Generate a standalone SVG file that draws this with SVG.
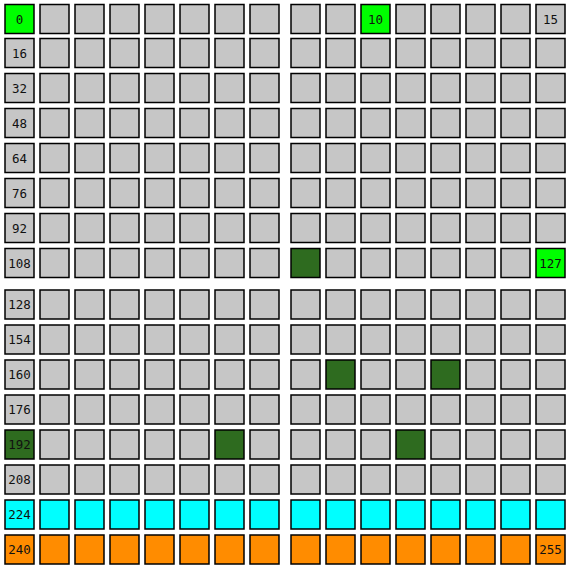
<svg xmlns="http://www.w3.org/2000/svg" width="573" height="571" viewBox="0 0 573 571">
<defs>
<style>
rect.c{fill:#c6c6c6;stroke:#000;stroke-width:1.5}
rect.g{fill:#00ff00}
rect.d{fill:#2e6b1f}
rect.cy{fill:#00ffff}
rect.o{fill:#ff8c00}
text{font-family:"DejaVu Sans Mono","Liberation Mono",monospace;font-size:12.5px;fill:#111;text-anchor:middle}
</style>
<rect id="cell" class="c" width="29" height="29"/>
</defs>
<rect width="573" height="571" fill="#fff"/>
<g id="grid">
<!-- row 0 -->
<g id="r0" transform="translate(0,4.5)">
<g id="n0"><rect class="c g" x="5" width="29" height="29"/><text x="19.5" y="19">0</text></g>
<rect class="c" x="40" width="29" height="29"/><rect class="c" x="75" width="29" height="29"/><rect class="c" x="110" width="29" height="29"/><rect class="c" x="145" width="29" height="29"/><rect class="c" x="180" width="29" height="29"/><rect class="c" x="215" width="29" height="29"/><rect class="c" x="250" width="29" height="29"/>
<rect class="c" x="291" width="29" height="29"/><rect class="c" x="326" width="29" height="29"/>
<g id="n10"><rect class="c g" x="361" width="29" height="29"/><text x="375.5" y="19">10</text></g>
<rect class="c" x="396" width="29" height="29"/><rect class="c" x="431" width="29" height="29"/><rect class="c" x="466" width="29" height="29"/><rect class="c" x="501" width="29" height="29"/>
<g id="n15"><rect class="c" x="536" width="29" height="29"/><text x="550.5" y="19">15</text></g>
</g>
<!-- rows 1-6 gray -->
<g id="r1" transform="translate(0,38.5)">
<g id="n16"><rect class="c" x="5" width="29" height="29"/><text x="19.5" y="19">16</text></g>
<rect class="c" x="40" width="29" height="29"/><rect class="c" x="75" width="29" height="29"/><rect class="c" x="110" width="29" height="29"/><rect class="c" x="145" width="29" height="29"/><rect class="c" x="180" width="29" height="29"/><rect class="c" x="215" width="29" height="29"/><rect class="c" x="250" width="29" height="29"/>
<rect class="c" x="291" width="29" height="29"/><rect class="c" x="326" width="29" height="29"/><rect class="c" x="361" width="29" height="29"/><rect class="c" x="396" width="29" height="29"/><rect class="c" x="431" width="29" height="29"/><rect class="c" x="466" width="29" height="29"/><rect class="c" x="501" width="29" height="29"/><rect class="c" x="536" width="29" height="29"/>
</g>
<g id="r2" transform="translate(0,73.5)">
<g id="n32"><rect class="c" x="5" width="29" height="29"/><text x="19.5" y="19">32</text></g>
<rect class="c" x="40" width="29" height="29"/><rect class="c" x="75" width="29" height="29"/><rect class="c" x="110" width="29" height="29"/><rect class="c" x="145" width="29" height="29"/><rect class="c" x="180" width="29" height="29"/><rect class="c" x="215" width="29" height="29"/><rect class="c" x="250" width="29" height="29"/>
<rect class="c" x="291" width="29" height="29"/><rect class="c" x="326" width="29" height="29"/><rect class="c" x="361" width="29" height="29"/><rect class="c" x="396" width="29" height="29"/><rect class="c" x="431" width="29" height="29"/><rect class="c" x="466" width="29" height="29"/><rect class="c" x="501" width="29" height="29"/><rect class="c" x="536" width="29" height="29"/>
</g>
<g id="r3" transform="translate(0,108.5)">
<g id="n48"><rect class="c" x="5" width="29" height="29"/><text x="19.5" y="19">48</text></g>
<rect class="c" x="40" width="29" height="29"/><rect class="c" x="75" width="29" height="29"/><rect class="c" x="110" width="29" height="29"/><rect class="c" x="145" width="29" height="29"/><rect class="c" x="180" width="29" height="29"/><rect class="c" x="215" width="29" height="29"/><rect class="c" x="250" width="29" height="29"/>
<rect class="c" x="291" width="29" height="29"/><rect class="c" x="326" width="29" height="29"/><rect class="c" x="361" width="29" height="29"/><rect class="c" x="396" width="29" height="29"/><rect class="c" x="431" width="29" height="29"/><rect class="c" x="466" width="29" height="29"/><rect class="c" x="501" width="29" height="29"/><rect class="c" x="536" width="29" height="29"/>
</g>
<g id="r4" transform="translate(0,143.5)">
<g id="n64"><rect class="c" x="5" width="29" height="29"/><text x="19.5" y="19">64</text></g>
<rect class="c" x="40" width="29" height="29"/><rect class="c" x="75" width="29" height="29"/><rect class="c" x="110" width="29" height="29"/><rect class="c" x="145" width="29" height="29"/><rect class="c" x="180" width="29" height="29"/><rect class="c" x="215" width="29" height="29"/><rect class="c" x="250" width="29" height="29"/>
<rect class="c" x="291" width="29" height="29"/><rect class="c" x="326" width="29" height="29"/><rect class="c" x="361" width="29" height="29"/><rect class="c" x="396" width="29" height="29"/><rect class="c" x="431" width="29" height="29"/><rect class="c" x="466" width="29" height="29"/><rect class="c" x="501" width="29" height="29"/><rect class="c" x="536" width="29" height="29"/>
</g>
<g id="r5" transform="translate(0,178.5)">
<g id="n76"><rect class="c" x="5" width="29" height="29"/><text x="19.5" y="19">76</text></g>
<rect class="c" x="40" width="29" height="29"/><rect class="c" x="75" width="29" height="29"/><rect class="c" x="110" width="29" height="29"/><rect class="c" x="145" width="29" height="29"/><rect class="c" x="180" width="29" height="29"/><rect class="c" x="215" width="29" height="29"/><rect class="c" x="250" width="29" height="29"/>
<rect class="c" x="291" width="29" height="29"/><rect class="c" x="326" width="29" height="29"/><rect class="c" x="361" width="29" height="29"/><rect class="c" x="396" width="29" height="29"/><rect class="c" x="431" width="29" height="29"/><rect class="c" x="466" width="29" height="29"/><rect class="c" x="501" width="29" height="29"/><rect class="c" x="536" width="29" height="29"/>
</g>
<g id="r6" transform="translate(0,213.5)">
<g id="n92"><rect class="c" x="5" width="29" height="29"/><text x="19.5" y="19">92</text></g>
<rect class="c" x="40" width="29" height="29"/><rect class="c" x="75" width="29" height="29"/><rect class="c" x="110" width="29" height="29"/><rect class="c" x="145" width="29" height="29"/><rect class="c" x="180" width="29" height="29"/><rect class="c" x="215" width="29" height="29"/><rect class="c" x="250" width="29" height="29"/>
<rect class="c" x="291" width="29" height="29"/><rect class="c" x="326" width="29" height="29"/><rect class="c" x="361" width="29" height="29"/><rect class="c" x="396" width="29" height="29"/><rect class="c" x="431" width="29" height="29"/><rect class="c" x="466" width="29" height="29"/><rect class="c" x="501" width="29" height="29"/><rect class="c" x="536" width="29" height="29"/>
</g>
<g id="r7" transform="translate(0,248.5)">
<g id="n108"><rect class="c" x="5" width="29" height="29"/><text x="19.5" y="19">108</text></g>
<rect class="c" x="40" width="29" height="29"/><rect class="c" x="75" width="29" height="29"/><rect class="c" x="110" width="29" height="29"/><rect class="c" x="145" width="29" height="29"/><rect class="c" x="180" width="29" height="29"/><rect class="c" x="215" width="29" height="29"/><rect class="c" x="250" width="29" height="29"/>
<rect class="c d" x="291" width="29" height="29"/><rect class="c" x="326" width="29" height="29"/><rect class="c" x="361" width="29" height="29"/><rect class="c" x="396" width="29" height="29"/><rect class="c" x="431" width="29" height="29"/><rect class="c" x="466" width="29" height="29"/><rect class="c" x="501" width="29" height="29"/>
<g id="n127"><rect class="c g" x="536" width="29" height="29"/><text x="550.5" y="19">127</text></g>
</g>
<!-- lower half -->
<g id="r8" transform="translate(0,290)">
<g id="n128"><rect class="c" x="5" width="29" height="29"/><text x="19.5" y="19">128</text></g>
<rect class="c" x="40" width="29" height="29"/><rect class="c" x="75" width="29" height="29"/><rect class="c" x="110" width="29" height="29"/><rect class="c" x="145" width="29" height="29"/><rect class="c" x="180" width="29" height="29"/><rect class="c" x="215" width="29" height="29"/><rect class="c" x="250" width="29" height="29"/>
<rect class="c" x="291" width="29" height="29"/><rect class="c" x="326" width="29" height="29"/><rect class="c" x="361" width="29" height="29"/><rect class="c" x="396" width="29" height="29"/><rect class="c" x="431" width="29" height="29"/><rect class="c" x="466" width="29" height="29"/><rect class="c" x="501" width="29" height="29"/><rect class="c" x="536" width="29" height="29"/>
</g>
<g id="r9" transform="translate(0,325)">
<g id="n154"><rect class="c" x="5" width="29" height="29"/><text x="19.5" y="19">154</text></g>
<rect class="c" x="40" width="29" height="29"/><rect class="c" x="75" width="29" height="29"/><rect class="c" x="110" width="29" height="29"/><rect class="c" x="145" width="29" height="29"/><rect class="c" x="180" width="29" height="29"/><rect class="c" x="215" width="29" height="29"/><rect class="c" x="250" width="29" height="29"/>
<rect class="c" x="291" width="29" height="29"/><rect class="c" x="326" width="29" height="29"/><rect class="c" x="361" width="29" height="29"/><rect class="c" x="396" width="29" height="29"/><rect class="c" x="431" width="29" height="29"/><rect class="c" x="466" width="29" height="29"/><rect class="c" x="501" width="29" height="29"/><rect class="c" x="536" width="29" height="29"/>
</g>
<g id="r10" transform="translate(0,360)">
<g id="n160"><rect class="c" x="5" width="29" height="29"/><text x="19.5" y="19">160</text></g>
<rect class="c" x="40" width="29" height="29"/><rect class="c" x="75" width="29" height="29"/><rect class="c" x="110" width="29" height="29"/><rect class="c" x="145" width="29" height="29"/><rect class="c" x="180" width="29" height="29"/><rect class="c" x="215" width="29" height="29"/><rect class="c" x="250" width="29" height="29"/>
<rect class="c" x="291" width="29" height="29"/><rect class="c d" x="326" width="29" height="29"/><rect class="c" x="361" width="29" height="29"/><rect class="c" x="396" width="29" height="29"/><rect class="c d" x="431" width="29" height="29"/><rect class="c" x="466" width="29" height="29"/><rect class="c" x="501" width="29" height="29"/><rect class="c" x="536" width="29" height="29"/>
</g>
<g id="r11" transform="translate(0,395)">
<g id="n176"><rect class="c" x="5" width="29" height="29"/><text x="19.5" y="19">176</text></g>
<rect class="c" x="40" width="29" height="29"/><rect class="c" x="75" width="29" height="29"/><rect class="c" x="110" width="29" height="29"/><rect class="c" x="145" width="29" height="29"/><rect class="c" x="180" width="29" height="29"/><rect class="c" x="215" width="29" height="29"/><rect class="c" x="250" width="29" height="29"/>
<rect class="c" x="291" width="29" height="29"/><rect class="c" x="326" width="29" height="29"/><rect class="c" x="361" width="29" height="29"/><rect class="c" x="396" width="29" height="29"/><rect class="c" x="431" width="29" height="29"/><rect class="c" x="466" width="29" height="29"/><rect class="c" x="501" width="29" height="29"/><rect class="c" x="536" width="29" height="29"/>
</g>
<g id="r12" transform="translate(0,430)">
<g id="n192"><rect class="c d" x="5" width="29" height="29"/><text x="19.5" y="19">192</text></g>
<rect class="c" x="40" width="29" height="29"/><rect class="c" x="75" width="29" height="29"/><rect class="c" x="110" width="29" height="29"/><rect class="c" x="145" width="29" height="29"/><rect class="c" x="180" width="29" height="29"/><rect class="c d" x="215" width="29" height="29"/><rect class="c" x="250" width="29" height="29"/>
<rect class="c" x="291" width="29" height="29"/><rect class="c" x="326" width="29" height="29"/><rect class="c" x="361" width="29" height="29"/><rect class="c d" x="396" width="29" height="29"/><rect class="c" x="431" width="29" height="29"/><rect class="c" x="466" width="29" height="29"/><rect class="c" x="501" width="29" height="29"/><rect class="c" x="536" width="29" height="29"/>
</g>
<g id="r13" transform="translate(0,465)">
<g id="n208"><rect class="c" x="5" width="29" height="29"/><text x="19.5" y="19">208</text></g>
<rect class="c" x="40" width="29" height="29"/><rect class="c" x="75" width="29" height="29"/><rect class="c" x="110" width="29" height="29"/><rect class="c" x="145" width="29" height="29"/><rect class="c" x="180" width="29" height="29"/><rect class="c" x="215" width="29" height="29"/><rect class="c" x="250" width="29" height="29"/>
<rect class="c" x="291" width="29" height="29"/><rect class="c" x="326" width="29" height="29"/><rect class="c" x="361" width="29" height="29"/><rect class="c" x="396" width="29" height="29"/><rect class="c" x="431" width="29" height="29"/><rect class="c" x="466" width="29" height="29"/><rect class="c" x="501" width="29" height="29"/><rect class="c" x="536" width="29" height="29"/>
</g>
<g id="r14" transform="translate(0,500)">
<g id="n224"><rect class="c cy" x="5" width="29" height="29"/><text x="19.5" y="19">224</text></g>
<rect class="c cy" x="40" width="29" height="29"/><rect class="c cy" x="75" width="29" height="29"/><rect class="c cy" x="110" width="29" height="29"/><rect class="c cy" x="145" width="29" height="29"/><rect class="c cy" x="180" width="29" height="29"/><rect class="c cy" x="215" width="29" height="29"/><rect class="c cy" x="250" width="29" height="29"/>
<rect class="c cy" x="291" width="29" height="29"/><rect class="c cy" x="326" width="29" height="29"/><rect class="c cy" x="361" width="29" height="29"/><rect class="c cy" x="396" width="29" height="29"/><rect class="c cy" x="431" width="29" height="29"/><rect class="c cy" x="466" width="29" height="29"/><rect class="c cy" x="501" width="29" height="29"/><rect class="c cy" x="536" width="29" height="29"/>
</g>
<g id="r15" transform="translate(0,535)">
<g id="n240"><rect class="c o" x="5" width="29" height="29"/><text x="19.5" y="19">240</text></g>
<rect class="c o" x="40" width="29" height="29"/><rect class="c o" x="75" width="29" height="29"/><rect class="c o" x="110" width="29" height="29"/><rect class="c o" x="145" width="29" height="29"/><rect class="c o" x="180" width="29" height="29"/><rect class="c o" x="215" width="29" height="29"/><rect class="c o" x="250" width="29" height="29"/>
<rect class="c o" x="291" width="29" height="29"/><rect class="c o" x="326" width="29" height="29"/><rect class="c o" x="361" width="29" height="29"/><rect class="c o" x="396" width="29" height="29"/><rect class="c o" x="431" width="29" height="29"/><rect class="c o" x="466" width="29" height="29"/><rect class="c o" x="501" width="29" height="29"/>
<g id="n255"><rect class="c o" x="536" width="29" height="29"/><text x="550.5" y="19">255</text></g>
</g>
</g>
<g id="connectors"/>
</svg>
